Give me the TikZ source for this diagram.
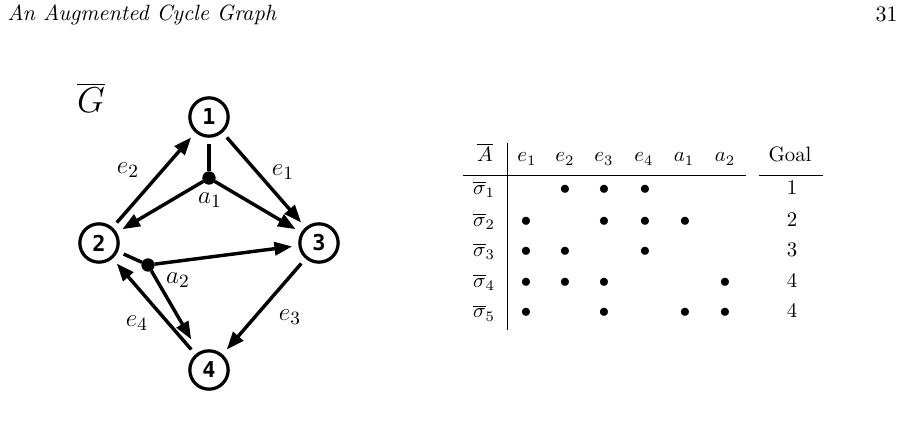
\documentclass[tikz,border=0pt]{standalone}
\usepackage{fontspec}
\newfontfamily\numfont{DejaVu Sans Mono}
\usetikzlibrary{arrows.meta}
\begin{document}
\begin{tikzpicture}[x=0.48pt,y=-0.48pt,
  vert/.style={circle,draw,line width=1.55pt,inner sep=0pt,minimum size=18.4pt,outer sep=3.8pt,font=\numfont\bfseries\fontsize{10.5}{12}\selectfont},
  hub/.style={circle,fill,inner sep=0pt,minimum size=6.4pt,outer sep=0pt},
  arc/.style={line width=1.65pt,-{Triangle[length=8.5pt,width=6.3pt]}},
  seg/.style={line width=1.65pt},
  lab/.style={font=\fontsize{12.5}{14}\selectfont,inner sep=0pt},
  cell/.style={anchor=base,inner sep=0pt},
  rule/.style={line width=0.45pt}]
\useasboundingbox (0,0) rectangle (904,427);
% running head
\node[anchor=base west,inner sep=0pt,font=\fontsize{10.6}{12}\selectfont] (title) at (7,21) {\itshape An Augmented Cycle Graph};
\node[anchor=base east,inner sep=0pt,font=\fontsize{10.6}{12}\selectfont] (page) at (898,22) {31};
% graph
\node[font=\fontsize{18}{21}\selectfont,inner sep=0pt] (gbar) at (91,98) {$\overline{G}$};
\node[vert] (n1) at (209,117) {1};
\node[vert] (n2) at (99,243) {2};
\node[vert] (n3) at (319,243) {3};
\node[vert] (n4) at (209,370) {4};
\node[hub] (h1) at (209,178) {};
\node[hub] (h2) at (148,265) {};
\draw[seg] (h1) -- (n1);
\draw[arc] (h1) -- (n2);
\draw[arc] (h1) -- (n3);
\draw[arc] (n2) -- (n1);
\draw[arc] (n1) -- (n3);
\draw[arc] (n3) -- (n4);
\draw[arc] (n4) -- (n2);
\draw[seg] (n2) -- (h2);
\draw[arc] (h2) -- (n3);
\draw[arc,shorten >=4pt] (h2) -- (n4);
\node[lab] (le1) at (283,172) {$e_1$};
\node[lab] (le2) at (128,170) {$e_2$};
\node[lab] (le3) at (290,317) {$e_3$};
\node[lab] (le4) at (137,323) {$e_4$};
\node[lab] (la1) at (210,200) {$a_1$};
\node[lab] (la2) at (178,280) {$a_2$};
% table
\draw[rule] (507,143) -- (507,330);
\draw[rule] (463,175) -- (746,175);
\draw[rule] (759,175) -- (823,175);
\node[cell] (hA) at (485,162) {$\overline{A}$};
\node[cell] (hc1) at (527,162) {$e_1$};
\node[cell] (hc2) at (565,162) {$e_2$};
\node[cell] (hc3) at (604,162) {$e_3$};
\node[cell] (hc4) at (644,162) {$e_4$};
\node[cell] (hc5) at (684,162) {$a_1$};
\node[cell] (hc6) at (725,162) {$a_2$};
\node[cell] (hgoal) at (790,162) {Goal};
\foreach \r/\y/\cols/\g in {1/194.5/{2,3,4}/1, 2/226.5/{1,3,4,5}/2, 3/256.5/{1,2,4}/3, 4/287.5/{1,2,3,6}/4, 5/318/{1,3,5,6}/4}{
  \node[cell] (s\r) at (484,\y) {$\overline{\sigma}_{\r}$};
  \node[cell] (g\r) at (792,\y) {\g};
  \foreach \c in \cols {
    \pgfmathsetmacro{\cx}{{526,565,604,645,685,725}[\c-1]}
    \node[cell] (d\r-\c) at (\cx,\y) {$\bullet$};
  }
}
\end{tikzpicture}
\end{document}
